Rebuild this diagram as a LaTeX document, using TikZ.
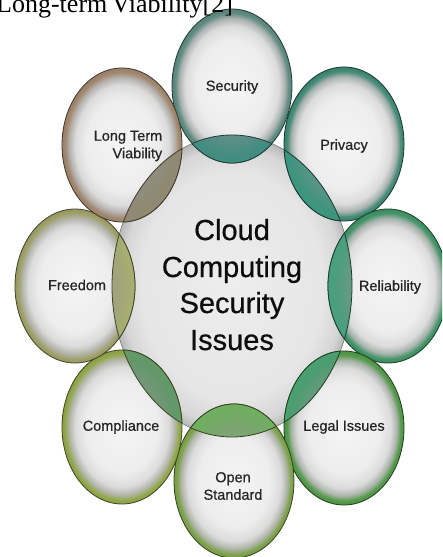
\documentclass[tikz,border=0pt]{standalone}
\usepackage{fontspec}
\setmainfont{Liberation Serif}
\newfontfamily\labfont[BoldFont={Liberation Sans}, BoldFeatures={FakeBold=0.6}]{Liberation Sans}
\definecolor{rimcol}{HTML}{5E9488}
\definecolor{lenscol}{HTML}{3E8E80}
\definecolor{secR}{HTML}{5E9084}
\definecolor{priR}{HTML}{3F8F78}
\definecolor{relR}{HTML}{3F9A68}
\definecolor{legR}{HTML}{52A048}
\definecolor{opeR}{HTML}{82AA4C}
\definecolor{comR}{HTML}{98B04A}
\definecolor{freR}{HTML}{A6A86A}
\definecolor{ltvR}{HTML}{A88C70}
\definecolor{secL}{HTML}{3E8E80}
\definecolor{priL}{HTML}{3A9680}
\definecolor{relL}{HTML}{48A080}
\definecolor{legL}{HTML}{48A070}
\definecolor{opeL}{HTML}{70B060}
\definecolor{comL}{HTML}{609A68}
\definecolor{freL}{HTML}{A8B070}
\definecolor{ltvL}{HTML}{908A70}
% in TikZ shading, 25bp = edge of the path bounding box
\pgfdeclareradialshading[rimcol]{bubble}{\pgfpoint{0bp}{0bp}}{%
 color(0bp)=(white!96!black);
 color(15bp)=(white!93!black);
 color(19.5bp)=(white!86!black);
 color(22bp)=(rimcol!20!gray!62!white);
 color(23.6bp)=(rimcol!85!gray);
 color(25bp)=(rimcol!90!black);
 color(50bp)=(rimcol!90!black)}
\pgfdeclareradialshading[lenscol]{lensshade}{\pgfpoint{0bp}{0bp}}{%
 color(0bp)=(lenscol!60!gray!90!white);
 color(17bp)=(lenscol!65!gray!95!white);
 color(22bp)=(lenscol!90!gray);
 color(25bp)=(lenscol);
 color(50bp)=(lenscol)}
\pgfdeclareradialshading{centralshade}{\pgfpoint{0bp}{0bp}}{%
 color(0bp)=(white!93!black);
 color(19bp)=(white!90!black);
 color(23bp)=(white!84!black);
 color(25bp)=(white!72!black);
 color(50bp)=(white!72!black)}
\tikzset{
 set rim/.code={\colorlet{rimcol}{#1}},
 set lens/.code={\colorlet{lenscol}{#1}},
 bubble/.style={set rim=#1, shading=bubble, draw=#1!40!black, line width=0.8pt},
 lensfill/.style={set lens=#1, shading=lensshade},
 lab/.style={font=\labfont\bfseries\fontsize{14.5}{17.5}\selectfont, text=black!85, inner sep=0pt, align=center},
 big/.style={font=\labfont\bfseries\fontsize{29}{36.5}\selectfont, text=black!95, inner sep=0pt, anchor=base},
}
\begin{document}
\begin{tikzpicture}[x=1pt,y=-1pt]
\useasboundingbox (0,0) rectangle (442,557);
\clip (0,0) rectangle (442,557);
\fill[white] (0,0) rectangle (442,557);
% central ellipse
\shadedraw[shading=centralshade, draw=black!55, line width=0.6pt] (232,286) ellipse [x radius=120, y radius=151];
% outer bubbles
\foreach \cx/\cy/\rc in {232/86/secR, 344/144/priR, 388/286/relR, 344/428/legR, 234/481/opeR, 122/427/comR, 75/286/freR, 122/145/ltvR}{
  \shadedraw[bubble=\rc] (\cx,\cy) ellipse [x radius=60, y radius=77];
}
% lenses
\foreach \cx/\cy/\rc/\lc in {232/86/secR/secL, 344/144/priR/priL, 388/286/relR/relL, 344/428/legR/legL, 234/481/opeR/opeL, 122/427/comR/comL, 75/286/freR/freL, 122/145/ltvR/ltvL}{
  \begin{scope}
    \clip (232,286) ellipse [x radius=120, y radius=151];
    \shade[lensfill=\lc] (\cx,\cy) ellipse [x radius=60, y radius=77];
    \draw[\rc!40!black, line width=0.8pt] (\cx,\cy) ellipse [x radius=60, y radius=77];
  \end{scope}
  \begin{scope}
    \clip (\cx,\cy) ellipse [x radius=60, y radius=77];
    \draw[\rc!40!black, line width=0.8pt] (232,286) ellipse [x radius=120, y radius=151];
  \end{scope}
}
% labels
\node[lab] (tsec) at (232,87) {Security};
\node[lab] (tpri) at (344,146) {Privacy};
\node[lab] (trel) at (390,287) {Reliability};
\node[lab] (tleg) at (344,427) {Legal Issues};
\node[lab] (tope) at (233,486) {Open\\Standard};
\node[lab] (tcom) at (121,427) {Compliance};
\node[lab] (tfre) at (77,285) {Freedom};
\node[lab, align=right] (tltv) at (128,146) {Long Term\\Viability};
% central text
\node[big] (c1) at (232,240) {Cloud};
\node[big] (c2) at (232,277) {Computing};
\node[big] (c3) at (232,313) {Security};
\node[big] (c4) at (232,350) {Issues};
% cut caption at top
\node[anchor=base west, inner sep=0pt, font=\fontsize{26}{30}\selectfont] (cap) at (-4,12.5) {Long-term\,Viability[2]};
\end{tikzpicture}
\end{document}
